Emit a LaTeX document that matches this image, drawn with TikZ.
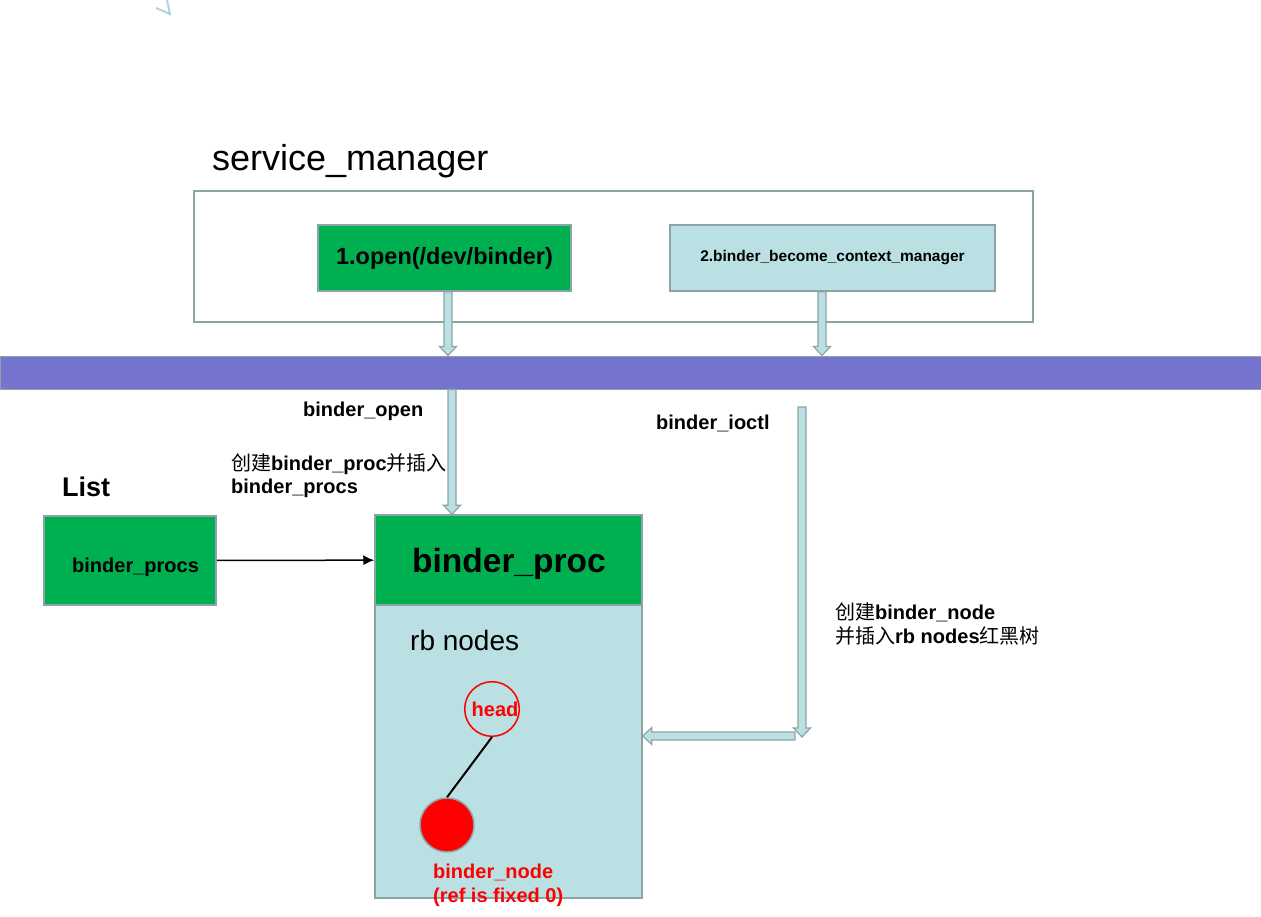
\documentclass[tikz,border=0pt]{standalone}
\usepackage{fontspec}
\setmainfont{Liberation Sans}
\newfontfamily\cjk{Noto Sans CJK SC}
\usetikzlibrary{calc,arrows.meta}

\definecolor{smgreen}{RGB}{0,176,80}
\definecolor{smblue}{RGB}{187,224,227}
\definecolor{smedge}{RGB}{140,164,166}
\definecolor{smbar}{RGB}{117,117,207}
\definecolor{smtick}{RGB}{170,215,225}

\newcommand{\fsz}[1]{\fontsize{#1}{#1}\selectfont}

\tikzstyle{box} = [draw=smedge,line width=1.5pt,inner sep=0pt]
\tikzstyle{greenbox} = [box,fill=smgreen]
\tikzstyle{bluebox} = [box,fill=smblue]
\tikzstyle{lbl} = [inner sep=0pt,anchor=base west,font=\fsz{20}\bfseries]
\tikzstyle{rbnode} = [circle,minimum size=54pt,inner sep=0pt,line width=1.5pt]
\tikzstyle{blockarrow} = [draw=smedge,fill=smblue,line width=1.2pt,
	to path={($(\tikztotarget)!9pt!(\tikztostart)$) coordinate (bahead)
		($(\tikztostart)!4pt!90:(\tikztotarget)$) -- ($(bahead)!4pt!90:(\tikztotarget)$)
		-- ($(bahead)!8.5pt!90:(\tikztotarget)$) -- (\tikztotarget)
		-- ($(bahead)!8.5pt!-90:(\tikztotarget)$) -- ($(bahead)!4pt!-90:(\tikztotarget)$)
		-- ($(\tikztostart)!4pt!-90:(\tikztotarget)$) -- cycle}]

\begin{document}
\begin{tikzpicture}[x=1pt,y=-1pt]
	\useasboundingbox (0,0) rectangle (1261,916);
	\draw[smtick,line width=2pt] (156,8) -- (170,14) -- (167,0);
	
	\node[inner sep=0pt,anchor=base west,font=\fsz{36}] (smtitle) at (212,170) {service\_manager};
	\node[box,minimum width=839pt,minimum height=131pt] (sm) at (613.5,256.5) {};
	\node[greenbox,minimum width=253pt,minimum height=66pt,font=\fsz{23.5}\bfseries] (open) at (444.5,258) {1.open(/dev/binder)};
	\node[bluebox,minimum width=325pt,minimum height=66pt,font=\fsz{15.5}\bfseries] (ctx) at (832.5,258) {2.binder\_become\_context\_manager};
	\node[box,line width=1pt,fill=smbar,minimum width=1261pt,minimum height=33pt] (bar) at (630.5,372.5) {};
	
	\node[lbl] (openlbl) at (303,416) {binder\_open};
	\node[lbl] (ioctllbl) at (656,429) {binder\_ioctl};
	\node[lbl] (createproc) at (231,470) {{\cjk\mdseries 创建}binder\_proc{\cjk\mdseries 并插入}};
	\node[lbl] (createproc2) at (231,493) {binder\_procs};
	\node[lbl,font=\fsz{27}\bfseries] (listlbl) at (62,496) {List};
	\node[lbl] (createnode) at (835,619) {{\cjk\mdseries 创建}binder\_node};
	\node[lbl] (createnode2) at (835,643) {{\cjk\mdseries 并插入}rb nodes{\cjk\mdseries 红黑树}};
	
	\node[greenbox,minimum width=172pt,minimum height=89pt] (procs) at (130,560.5) {};
	\node[lbl] (procslbl) at (72,572) {binder\_procs};
	\node[bluebox,minimum width=267pt,minimum height=293pt] (rb) at (508.5,751.5) {};
	\node[greenbox,minimum width=267pt,minimum height=90pt] (proc) at (508.5,560) {};
	\node[lbl,font=\fsz{33.5}\bfseries] (proclbl) at (412,572) {binder\_proc};
	\node[lbl,font=\fsz{28}] (rblbl) at (410,650) {rb nodes};
	
	\node[rbnode,draw=red,text=red,font=\fsz{20}\bfseries] (head) at (492,709) {\hspace*{6pt}head};
	\node[rbnode,draw=smedge,fill=red] (bnode) at (447,825) {};
	\node[lbl,text=red] (bnodelbl) at (433,878) {binder\_node};
	\node[lbl,text=red] (bnodelbl2) at (433,902) {(ref is fixed 0)};
	
	\coordinate (openx) at (448,0);
	\coordinate (ctxx) at (822,0);
	\coordinate (procx) at (452,0);
	\coordinate (ioctltop) at (802,407);
	\coordinate (ioctlbot) at (802,737);
	\coordinate (turn) at (795,736);
	
	\draw[blockarrow] (openx |- open.south) to (openx |- bar.north);
	\draw[blockarrow] (ctxx |- ctx.south) to (ctxx |- bar.north);
	\draw[blockarrow] (procx |- bar.south) to (procx |- proc.north);
	\draw[blockarrow] (ioctltop) to (ioctlbot);
	\draw[blockarrow] (turn) to (turn -| rb.east);
	
	\draw[->,>={Latex[length=11pt,width=10pt]},line width=1.5pt] (procs) -- (proc);
	\draw[line width=2pt] (head.south) -- (bnode.north);
\end{tikzpicture}
\end{document}
